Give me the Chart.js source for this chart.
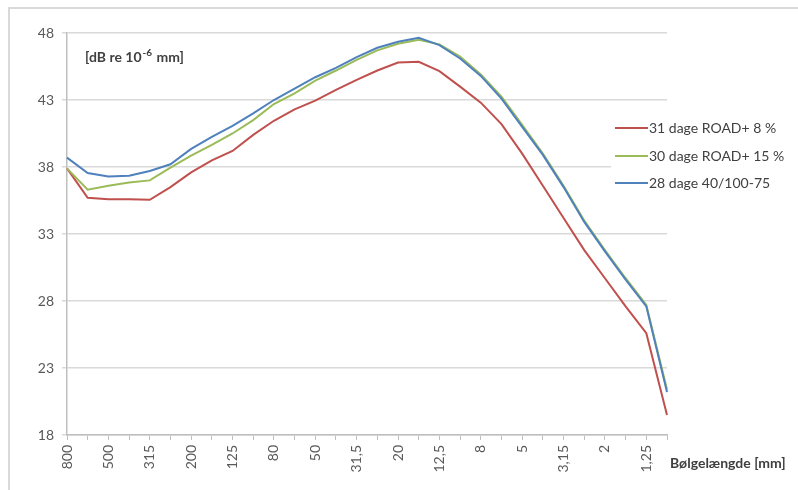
<!DOCTYPE html>
<html>
<head>
<meta charset="utf-8">
<script src="https://cdn.jsdelivr.net/npm/chart.js@4"></script>
<style>
    html, body { margin: 0; padding: 0; background: #fff; }
    #wrap { width: 798px; height: 490px; position: relative; }
</style>
</head>
<body>
<div id="wrap"><canvas id="chart" width="798" height="490"></canvas></div>
<script>
// Wavelength bands (mm), 1/3 octave
const categories = ['800', '630', '500', '400', '315', '250', '200', '160', '125', '100',
    '80', '63', '50', '40', '31,5', '25', '20', '16', '12,5', '10',
    '8', '6,3', '5', '4', '3,15', '2,5', '2', '1,6', '1,25', '1'];

const seriesNames = ['31 dage ROAD+ 8 %', '30 dage ROAD+ 15 %', '28 dage 40/100-75'];

const road8 = [37.9, 35.7, 35.6, 35.6, 35.55, 36.5, 37.6, 38.5, 39.2, 40.4,
    41.45, 42.3, 42.95, 43.75, 44.5, 45.2, 45.8, 45.85, 45.15, 44.0,
    42.8, 41.2, 39.0, 36.6, 34.2, 31.8, 29.7, 27.6, 25.6, 19.5];

const road15 = [37.9, 36.3, 36.6, 36.85, 37.0, 37.95, 38.85, 39.65, 40.5, 41.5,
    42.7, 43.5, 44.45, 45.2, 46.0, 46.7, 47.2, 47.5, 47.15, 46.25,
    44.9, 43.25, 41.15, 39.0, 36.6, 34.0, 31.8, 29.7, 27.7, 21.4];

const std40 = [38.7, 37.55, 37.3, 37.35, 37.7, 38.2, 39.35, 40.25, 41.07, 42.0,
    43.0, 43.85, 44.7, 45.4, 46.2, 46.9, 47.35, 47.65, 47.1, 46.1,
    44.8, 43.1, 41.0, 38.9, 36.5, 33.9, 31.7, 29.6, 27.6, 21.2];

const seriesColors = ['#c0504d', '#9bbb59', '#4f81bd'];

const FONT = 'Lato, "Open Sans", sans-serif';

// border, unit note, axis title and legend
const extras = {
    id: 'extras',
    beforeDraw(chart) {
        const c = chart.ctx;
        c.save();
        c.strokeStyle = '#d9d9d9';
        c.lineWidth = 2;
        c.strokeRect(9, 8, 1000, 1000);
        c.restore();
    },
    afterDraw(chart) {
        const c = chart.ctx;
        c.save();
        c.fillStyle = '#404040';
        c.textBaseline = 'alphabetic';

        // [dB re 10^-6 mm]
        c.font = 'bold 14px ' + FONT;
        let x = 85;
        c.fillText('[dB re 10', x, 62);
        x += c.measureText('[dB re 10').width + 1;
        c.font = 'bold 10px ' + FONT;
        c.fillText('-6', x, 56);
        x += c.measureText('-6').width + 1;
        c.font = 'bold 14px ' + FONT;
        c.fillText(' mm]', x, 62);

        // x axis title
        c.textBaseline = 'middle';
        c.fillText('Bølgelængde [mm]', 670, 463);

        // legend
        c.fillStyle = '#fff';
        c.fillRect(611, 112, 187, 86);
        c.font = '14px ' + FONT;
        const rows = [128, 156, 183];
        seriesNames.forEach((name, i) => {
            c.strokeStyle = seriesColors[i];
            c.lineWidth = 2;
            c.beginPath();
            c.moveTo(615, rows[i]);
            c.lineTo(648, rows[i]);
            c.stroke();
            c.fillStyle = '#404040';
            c.fillText(name, 649, rows[i]);
        });
        c.restore();
    }
};

const series = [road8, road15, std40];

new Chart(document.getElementById('chart').getContext('2d'), {
    type: 'line',
    data: {
        labels: categories,
        datasets: series.map((values, i) => ({
            label: seriesNames[i],
            data: values,
            borderColor: seriesColors[i],
            backgroundColor: seriesColors[i],
            borderWidth: 2,
            pointRadius: 0,
            tension: 0,
            order: 2 - i
        }))
    },
    options: {
        responsive: false,
        animation: false,
        layout: { padding: { left: 0, top: 33, right: 131, bottom: 0 } },
        plugins: {
            legend: { display: false },
            tooltip: { enabled: false }
        },
        scales: {
            x: {
                offset: false,
                grid: { drawOnChartArea: false, drawTicks: true, tickLength: 5, color: '#bfbfbf' },
                border: { color: '#bfbfbf', width: 1.5 },
                ticks: {
                    autoSkip: false,
                    minRotation: 90,
                    maxRotation: 90,
                    padding: 5,
                    color: '#595959',
                    font: { family: FONT, size: 14 },
                    callback: (v, i) => (i % 2 === 0 ? categories[i] : '')
                },
                afterFit: s => { s.height = 55; }
            },
            y: {
                min: 18,
                max: 48,
                grid: { color: '#d9d9d9', lineWidth: 1.5, tickLength: 5 },
                border: { color: '#bfbfbf', width: 1.5 },
                ticks: {
                    stepSize: 5,
                    padding: 8,
                    color: '#595959',
                    font: { family: FONT, size: 14 }
                },
                afterFit: s => { s.width = 67; }
            }
        }
    },
    plugins: [extras]
});
</script>
</body>
</html>
